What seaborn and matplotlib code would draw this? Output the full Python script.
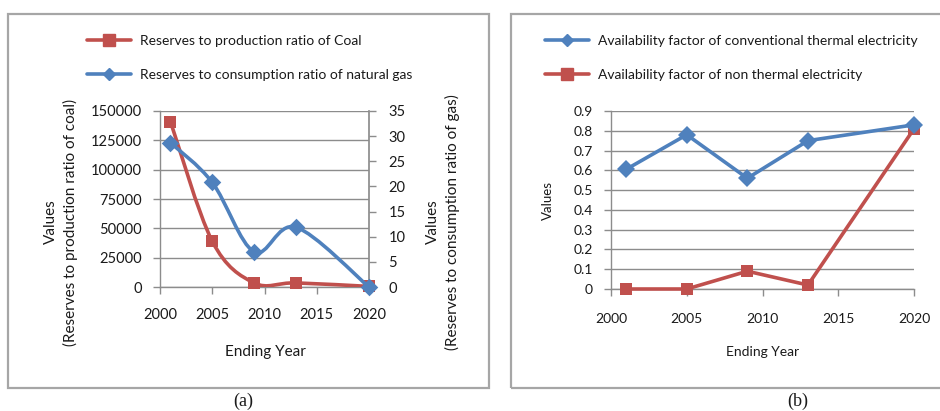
import numpy as np
import pandas as pd
import matplotlib
matplotlib.use("Agg")
import matplotlib.pyplot as plt
import seaborn as sns
from matplotlib.path import Path
from matplotlib.patches import PathPatch, Rectangle
from matplotlib.lines import Line2D

years = [2001, 2005, 2009, 2013, 2020]
coal_rp = [141000, 39000, 3500, 3500, 500]
gas_rc = [28.7, 20.8, 7.0, 11.9, 0.0]
conv_thermal = [0.605, 0.78, 0.56, 0.75, 0.83]
non_thermal = [0.0, 0.0, 0.09, 0.02, 0.81]

RED = "#C0504D"
BLUE = "#4F81BD"
GRID = "#8C8C8C"
TXT = "#1a1a1a"

sns.set_theme(style="white")
plt.rcParams["font.family"] = ["Lato", "DejaVu Sans"]

W, H = 940, 411
fig = plt.figure(figsize=(W / 100, H / 100), dpi=100)


def fx(px):
    return px / W


def fy(py):
    return 1 - py / H


def smooth_path(x, y):
    x = np.asarray(x, float)
    y = np.asarray(y, float)
    pts = np.column_stack([x, y])
    n = len(pts)
    verts = [pts[0]]
    codes = [Path.MOVETO]
    for i in range(n - 1):
        p0 = pts[i - 1] if i > 0 else pts[i]
        p1 = pts[i]
        p2 = pts[i + 1]
        p3 = pts[i + 2] if i + 2 < n else pts[i + 1]
        c1 = p1 + (p2 - p0) / 6.0
        c2 = p2 - (p3 - p1) / 6.0
        verts += [c1, c2, p2]
        codes += [Path.CURVE4] * 3
    return Path(verts, codes)


def style_axis(ax, ymax, yticks, fs):
    ax.set_facecolor("none")
    for s in ["top", "right"]:
        ax.spines[s].set_visible(False)
    for s in ["left", "bottom"]:
        ax.spines[s].set_color(GRID)
        ax.spines[s].set_linewidth(1.0)
    ax.set_xlim(2000, 2020)
    ax.set_xticks([2000, 2005, 2010, 2015, 2020])
    ax.set_ylim(0, ymax)
    ax.set_yticks(yticks)
    ax.yaxis.grid(True, color=GRID, linewidth=1.0)
    ax.xaxis.grid(False)
    ax.tick_params(axis="both", direction="out", length=5, width=1, color=GRID,
                   labelsize=fs, labelcolor=TXT, left=True, bottom=True)
    ax.tick_params(axis="y", pad=8)


# panel borders
for (x0, x1) in [(8, 489), (511, 945)]:
    fig.patches.append(Rectangle((fx(x0), fy(388)), fx(x1) - fx(x0), fy(14) - fy(388),
                                 transform=fig.transFigure, fill=False,
                                 edgecolor="#A6A6A6", linewidth=1.6))

# ---------- panel (a) ----------
ax1 = fig.add_axes([fx(160), fy(287), fx(369) - fx(160), fy(111) - fy(287)])
style_axis(ax1, 150000, [0, 25000, 50000, 75000, 100000, 125000, 150000], 10.5)
ax1.tick_params(axis="x", pad=10)
ax1.yaxis.set_major_formatter(matplotlib.ticker.FuncFormatter(lambda v, p: f"{int(v)}"))
ax2 = ax1.twinx()
ax2.set_ylim(0, 35)
ax2.set_yticks([0, 5, 10, 15, 20, 25, 30, 35])
for s in ["top", "left", "bottom"]:
    ax2.spines[s].set_visible(False)
ax2.spines["right"].set_visible(True)
ax2.spines["right"].set_color(GRID)
ax2.grid(False)
ax2.tick_params(axis="y", direction="out", length=5, width=1, color=GRID,
                labelsize=10.5, labelcolor=TXT, right=True, pad=9)

ax1.add_patch(PathPatch(smooth_path(years, coal_rp), fill=False, edgecolor=RED,
                        linewidth=2.6, capstyle="round", joinstyle="round", zorder=3))
ax2.add_patch(PathPatch(smooth_path(years, gas_rc), fill=False, edgecolor=BLUE,
                        linewidth=2.6, capstyle="round", joinstyle="round", zorder=3))
dfa = pd.DataFrame({"year": years, "coal": coal_rp, "gas": gas_rc})
sns.scatterplot(data=dfa, x="year", y="coal", ax=ax1, marker="s", s=80, color=RED,
                edgecolor=RED, linewidth=0, zorder=4, clip_on=False)
sns.scatterplot(data=dfa, x="year", y="gas", ax=ax2, marker="D", s=80, color=BLUE,
                edgecolor=BLUE, linewidth=0, zorder=5, clip_on=False)
ax1.set_xlabel("")
ax1.set_ylabel("")
ax2.set_ylabel("")

fig.text(fx(61), fy(222), "Values\n(Reserves to production ratio of coal)", rotation=90,
         ha="center", va="center", fontsize=11, color=TXT, linespacing=1.45)
fig.text(fx(443), fy(222), "Values\n(Reserves to consumption ratio of gas)", rotation=90,
         ha="center", va="center", fontsize=11, color=TXT, linespacing=1.45)
fig.text(fx(265), fy(352), "Ending Year", ha="center", va="center", fontsize=11, color=TXT)

ha = [Line2D([], [], color=RED, lw=2.6, marker="s", markersize=8),
      Line2D([], [], color=BLUE, lw=2.6, marker="D", markersize=6)]
fig.legend(ha, ["Reserves to production ratio of Coal",
                "Reserves to consumption ratio of natural gas"],
           loc="upper left", bbox_to_anchor=(fx(87), fy(35)), frameon=False,
           fontsize=10, handlelength=3.2, handletextpad=0.6, labelspacing=1.55,
           borderpad=0, borderaxespad=0, labelcolor=TXT)

# ---------- panel (b) ----------
ax3 = fig.add_axes([fx(611), fy(289), fx(914) - fx(611), fy(111) - fy(289)])
style_axis(ax3, 0.9, [0, 0.1, 0.2, 0.3, 0.4, 0.5, 0.6, 0.7, 0.8, 0.9], 10)
ax3.tick_params(axis="x", pad=12)
ax3.yaxis.set_major_formatter(matplotlib.ticker.FuncFormatter(
    lambda v, p: "0" if abs(v) < 1e-9 else f"{v:.1f}"))
dfb = pd.DataFrame({"year": years, "conv": conv_thermal, "non": non_thermal})
sns.lineplot(data=dfb, x="year", y="non", ax=ax3, color=RED, linewidth=2.6,
             marker="s", markersize=8.5, markeredgewidth=0, clip_on=False, zorder=3)
sns.lineplot(data=dfb, x="year", y="conv", ax=ax3, color=BLUE, linewidth=2.6,
             marker="D", markersize=9, markeredgewidth=0, clip_on=False, zorder=4)
ax3.set_xlabel("")
ax3.set_ylabel("")
fig.text(fx(548), fy(200), "Values", rotation=90, ha="center", va="center",
         fontsize=9.5, color=TXT)
fig.text(fx(763), fy(352), "Ending Year", ha="center", va="center", fontsize=10, color=TXT)

hb = [Line2D([], [], color=BLUE, lw=2.6, marker="D", markersize=6),
      Line2D([], [], color=RED, lw=2.6, marker="s", markersize=8)]
fig.legend(hb, ["Availability factor of conventional thermal electricity",
                "Availability factor of non thermal electricity"],
           loc="upper left", bbox_to_anchor=(fx(545), fy(35)), frameon=False,
           fontsize=10, handlelength=3.2, handletextpad=0.6, labelspacing=1.55,
           borderpad=0, borderaxespad=0, labelcolor=TXT)

fig.text(fx(243), fy(401), "(a)", ha="center", va="center", fontsize=13,
         family="Liberation Serif", color=TXT)
fig.text(fx(798), fy(401), "(b)", ha="center", va="center", fontsize=13,
         family="Liberation Serif", color=TXT)

fig.savefig("out.png", dpi=100)
